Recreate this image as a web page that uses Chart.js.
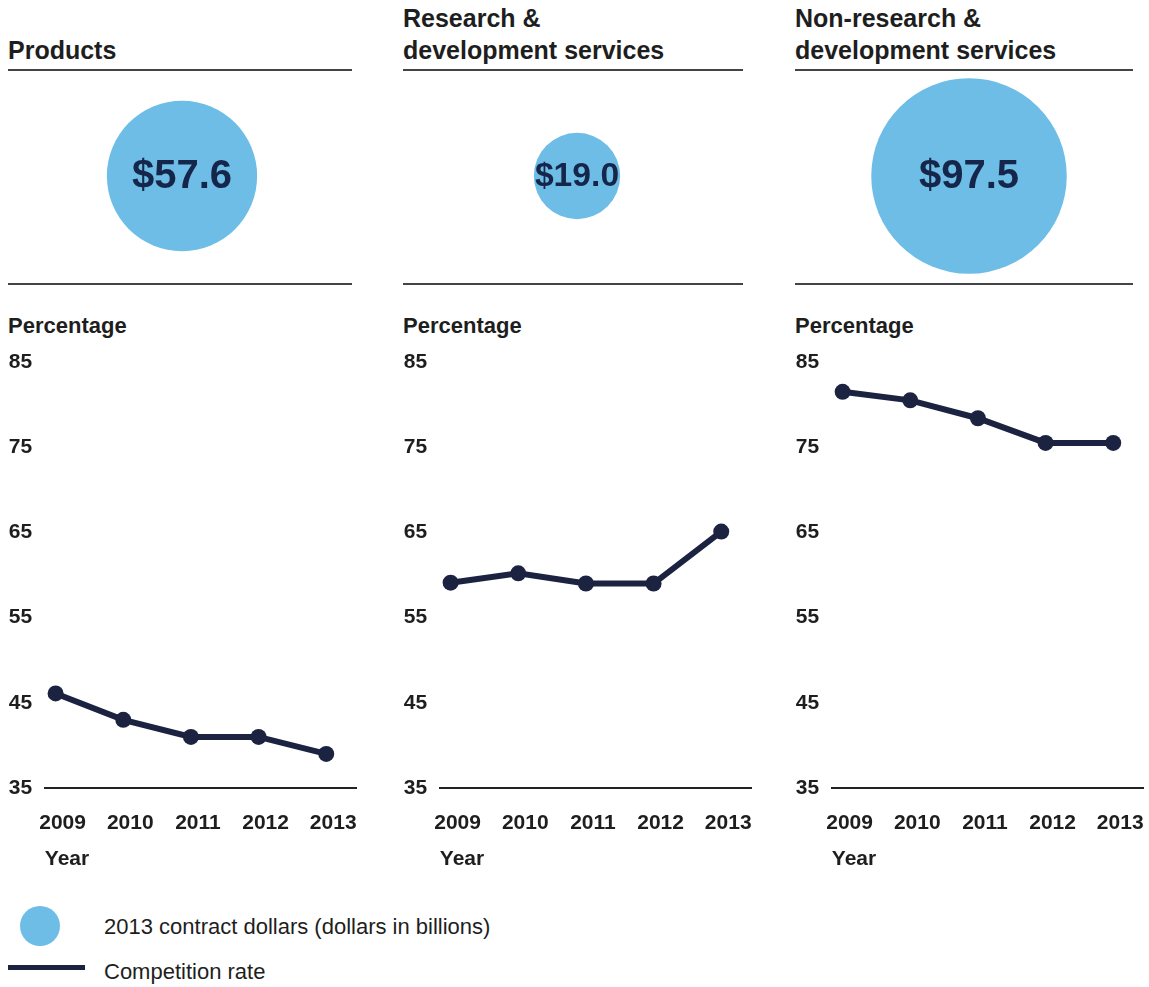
<!DOCTYPE html>
<html lang="en">
  <head>
    <meta charset="UTF-8" />
    <title>Competition rate by contract type</title>
    <script src="https://cdn.jsdelivr.net/npm/chart.js"></script>
    <style>
      body {
        margin: 0;
        background: #fff;
        font-family: "Liberation Sans", Arial, sans-serif;
        color: #1e1e1e;
      }
      .title {
        position: absolute;
        top: 0;
        height: 66px;
        display: flex;
        flex-direction: column;
        justify-content: flex-end;
        font-size: 25px;
        font-weight: bold;
        line-height: 32px;
        padding-bottom: 3px;
        border-bottom: 2px solid #444;
        box-sizing: content-box;
      }
      .rule {
        position: absolute;
        top: 283px;
        height: 2px;
        background: #444;
      }
      .pct {
        position: absolute;
        top: 313px;
        font-size: 22px;
        font-weight: bold;
        line-height: 26px;
      }
      canvas {
        position: absolute;
      }
      .legend-dot {
        position: absolute;
        left: 20px;
        top: 906px;
        width: 40px;
        height: 40px;
        border-radius: 50%;
        background: #6dbde6;
      }
      .legend-line {
        position: absolute;
        left: 8px;
        top: 965px;
        width: 77px;
        height: 5px;
        background: #1b2341;
      }
      .legend-text {
        position: absolute;
        left: 104px;
        font-size: 22px;
        line-height: 26px;
      }
    </style>
  </head>
  <body>
    <div id="panels"></div>
    <div class="legend-dot"></div>
    <div class="legend-text" style="top: 914px">2013 contract dollars (dollars in billions)</div>
    <div class="legend-line"></div>
    <div class="legend-text" style="top: 959px">Competition rate</div>

    <script>
      const panelTitles = [
        ["Products"],
        ["Research &", "development services"],
        ["Non-research &", "development services"],
      ];
      const years = [2009, 2010, 2011, 2012, 2013];
      const contractDollars = [57.6, 19.0, 97.5]; // 2013, billions
      const productsRate = [46.1, 43, 41, 41, 39];
      const rdRate = [59.1, 60.2, 59, 59, 65.1];
      const nonRdRate = [81.5, 80.5, 78.4, 75.5, 75.5];
      const yTicks = [35, 45, 55, 65, 75, 85];

      const rates = [productsRate, rdRate, nonRdRate];
      const panelLeft = [8, 403, 795];
      const ruleWidth = [344, 340, 338];

      const NAVY = "#1b2341";
      const BLUE = "#6dbde6";
      const TEXT = "#1e1e1e";
      const tickFont = { family: "'Liberation Sans', Arial, sans-serif", size: 21, weight: "bold" };

      // write the dollar amount in the middle of the bubble
      const bubbleLabel = {
        id: "bubbleLabel",
        afterDatasetsDraw(chart) {
          const c = chart.ctx;
          chart.getDatasetMeta(0).data.forEach((pt, i) => {
            const raw = chart.data.datasets[0].data[i];
            const size = Math.min(40, raw.r * 0.78);
            c.save();
            c.fillStyle = "#15264a";
            c.font = "bold " + size + "px 'Liberation Sans', Arial, sans-serif";
            c.textAlign = "center";
            c.textBaseline = "middle";
            c.fillText("$" + raw.v.toFixed(1), pt.x, pt.y + 1);
            c.restore();
          });
        },
      };

      const holder = document.getElementById("panels");

      panelTitles.forEach((lines, i) => {
        const left = panelLeft[i];

        const t = document.createElement("div");
        t.className = "title";
        t.style.left = left + "px";
        t.style.width = ruleWidth[i] + "px";
        t.innerHTML = lines.map((l) => "<div>" + l.replace("&", "&amp;") + "</div>").join("");
        holder.appendChild(t);

        const r = document.createElement("div");
        r.className = "rule";
        r.style.left = left + "px";
        r.style.width = ruleWidth[i] + "px";
        holder.appendChild(r);

        const p = document.createElement("div");
        p.className = "pct";
        p.style.left = left + "px";
        p.textContent = "Percentage";
        holder.appendChild(p);

        // bubble
        const bc = document.createElement("canvas");
        bc.width = 348;
        bc.height = 212;
        bc.style.left = left + "px";
        bc.style.top = "70px";
        holder.appendChild(bc);
        const v = contractDollars[i];
        new Chart(bc, {
          type: "bubble",
          data: {
            datasets: [
              {
                data: [{ x: 0, y: 0, r: 9.9 * Math.sqrt(v), v: v }],
                backgroundColor: BLUE,
                borderWidth: 0,
                clip: false,
              },
            ],
          },
          options: {
            responsive: false,
            animation: false,
            events: [],
            layout: { padding: 0 },
            plugins: { legend: { display: false }, tooltip: { enabled: false } },
            scales: {
              x: { display: false, min: -1, max: 1 },
              y: { display: false, min: -1, max: 1 },
            },
          },
          plugins: [bubbleLabel],
        });

        // competition rate line
        const lc = document.createElement("canvas");
        lc.width = 380;
        lc.height = 538;
        lc.style.left = left + "px";
        lc.style.top = "340px";
        holder.appendChild(lc);
        new Chart(lc, {
          type: "line",
          data: {
            datasets: [
              {
                data: years.map((y, k) => ({ x: y, y: rates[i][k] })),
                borderColor: NAVY,
                backgroundColor: NAVY,
                borderWidth: 6,
                pointRadius: 8,
                pointBorderWidth: 0,
                tension: 0,
                clip: false,
              },
            ],
          },
          options: {
            responsive: false,
            animation: false,
            events: [],
            layout: { padding: { top: 22, left: 0, right: 32, bottom: 0 } },
            plugins: { legend: { display: false }, tooltip: { enabled: false } },
            scales: {
              x: {
                type: "linear",
                min: 2008.84,
                max: 2013.44,
                afterBuildTicks: (s) => {
                  s.ticks = years.map((y) => ({ value: y }));
                },
                afterFit: (s) => {
                  s.height = 90;
                },
                ticks: {
                  font: tickFont,
                  color: TEXT,
                  padding: 23,
                  labelOffset: 7,
                  maxRotation: 0,
                  autoSkip: false,
                  callback: (val) => String(val),
                },
                grid: { display: false, drawTicks: false },
                border: { display: true, color: "#222", width: 2 },
                title: {
                  display: true,
                  text: "Year",
                  align: "start",
                  color: TEXT,
                  font: tickFont,
                  padding: { top: 0, bottom: 6 },
                },
              },
              y: {
                min: 35,
                max: 85,
                afterBuildTicks: (s) => {
                  s.ticks = yTicks.map((y) => ({ value: y }));
                },
                afterFit: (s) => {
                  s.width = 36;
                },
                ticks: { font: tickFont, color: TEXT, crossAlign: "far", padding: 0 },
                grid: { display: false, drawTicks: false },
                border: { display: false },
              },
            },
          },
        });
      });
    </script>
  </body>
</html>
